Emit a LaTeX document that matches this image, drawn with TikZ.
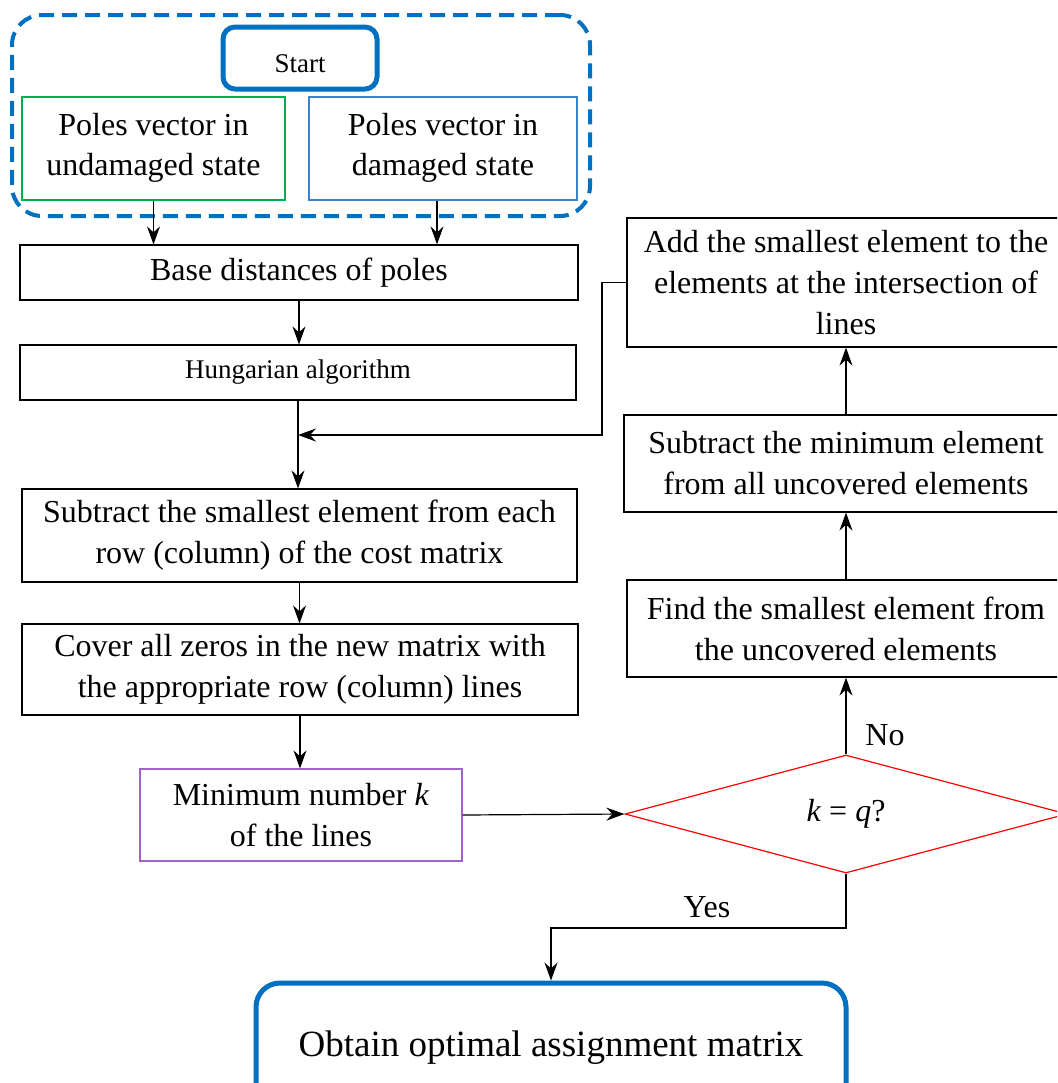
\documentclass[tikz,border=0pt]{standalone}
\usepackage{fontspec}
\setmainfont{Liberation Serif}
\usetikzlibrary{arrows.meta,shapes.geometric,calc}
\definecolor{ublue}{RGB}{0,112,192}
\definecolor{ugreen}{RGB}{0,176,80}
\definecolor{lblue}{RGB}{60,130,200}
\definecolor{upurple}{RGB}{160,100,200}
\definecolor{ured}{RGB}{255,0,0}
\begin{document}
\begin{tikzpicture}[x=0.5pt,y=-0.5pt,
  box/.style={draw, line width=0.6pt, align=center, inner sep=0pt,
    font=\fontsize{16}{20.5}\selectfont},
  term/.style={box, draw=ublue, line width=2.5pt, rounded corners=6pt},
  arr/.style={-{Stealth[length=9pt,width=6.5pt,inset=3pt]}, line width=0.6pt},
  lbl/.style={font=\fontsize{16}{20.5}\selectfont, inner sep=0pt}]
\clip (0,0) rectangle (1057,1083);
\node[draw=ublue, line width=2pt, dash pattern=on 7.5pt off 4pt, rounded corners=15pt,
  minimum width=289pt, minimum height=100.5pt, inner sep=0pt] (outer) at (301,115.5) {};
\node[term, minimum width=77pt, minimum height=31pt, font=\fontsize{13.5}{16}\selectfont] (start) at (300,58) {\raisebox{-3pt}[\height][\depth]{Start}};
\node[box, draw=ugreen, minimum width=131.5pt, minimum height=51.5pt, font=\fontsize{16}{19.5}\selectfont] (green) at (153.5,148.5) {\raisebox{0.5pt}[\height][\depth]{Poles vector in}\\undamaged state};
\node[box, draw=lblue, minimum width=134pt, minimum height=51.5pt, font=\fontsize{16}{19.5}\selectfont] (blue) at (443,148.5) {\raisebox{0.5pt}[\height][\depth]{Poles vector in}\\damaged state};
\node[box, minimum width=279pt, minimum height=27.5pt] (base) at (299,272.5) {Base distances of poles};
\node[box, minimum width=278pt, minimum height=27.5pt, font=\fontsize{13.5}{16}\selectfont] (hung) at (298,372.5) {Hungarian algorithm};
\node[box, minimum width=277.5pt, minimum height=46.5pt] (sub) at (299.5,535.5) {Subtract the smallest element from each\\row (column) of the cost matrix};
\node[box, minimum width=278pt, minimum height=45.5pt] (cover) at (300,669.5) {Cover all zeros in the new matrix with\\the appropriate row (column) lines};
\node[box, draw=upurple, minimum width=161pt, minimum height=46pt] (min) at (301,815) {Minimum number \textit{k}\\of the lines};
\node[draw=ured, line width=0.6pt, shape=diamond, inner sep=0pt, aspect=3.75,
  minimum width=221pt, minimum height=59pt, font=\fontsize{16}{20.5}\selectfont] (dia) at (846,814) {\textit{k} = \textit{q}?};
\node[box, minimum width=219pt, minimum height=48.5pt] (find) at (846,628.5) {Find the smallest element from\\the uncovered elements};
\node[box, minimum width=222pt, minimum height=48.5pt] (submin) at (846,463.5) {Subtract the minimum element\\from all uncovered elements};
\node[box, minimum width=219pt, minimum height=64.5pt] (add) at (846,282.5) {Add the smallest element to the\\elements at the intersection of\\lines};
\node[term, rounded corners=12pt, minimum width=295pt, minimum height=67pt, font=\fontsize{18.5}{22}\selectfont] (end) at (551,1050) {\raisebox{1pt}[\height][\depth]{Obtain optimal assignment matrix}};
\node[lbl] (no) at (885,735) {No};
\node[lbl] (yes) at (707,907) {Yes};
\coordinate (fb) at (602,435);
\coordinate (yc) at (551,928);
\draw[arr] (green.south) -- (green.south |- base.north);
\draw[arr] ([xshift=-3pt]blue.south) -- ([xshift=-3pt]blue.south |- base.north);
\draw[arr] (base.south) -- (base.south |- hung.north);
\draw[arr] (hung.south) -- (hung.south |- sub.north);
\draw[arr] (add.west) -- (add.west -| fb) -- (fb) -- (fb -| hung.south);
\draw[arr] (sub.south) -- (sub.south |- cover.north);
\draw[arr] (cover.south) -- (cover.south |- min.north);
\draw[arr] (min.east) -- (dia.west);
\draw[arr] (dia.north) -- (find.south);
\draw[arr] (find.north) -- (submin.south);
\draw[arr] (submin.north) -- (add.south);
\draw[arr] (dia.south) |- (yc) -- (yc |- end.north);
\end{tikzpicture}
\end{document}
